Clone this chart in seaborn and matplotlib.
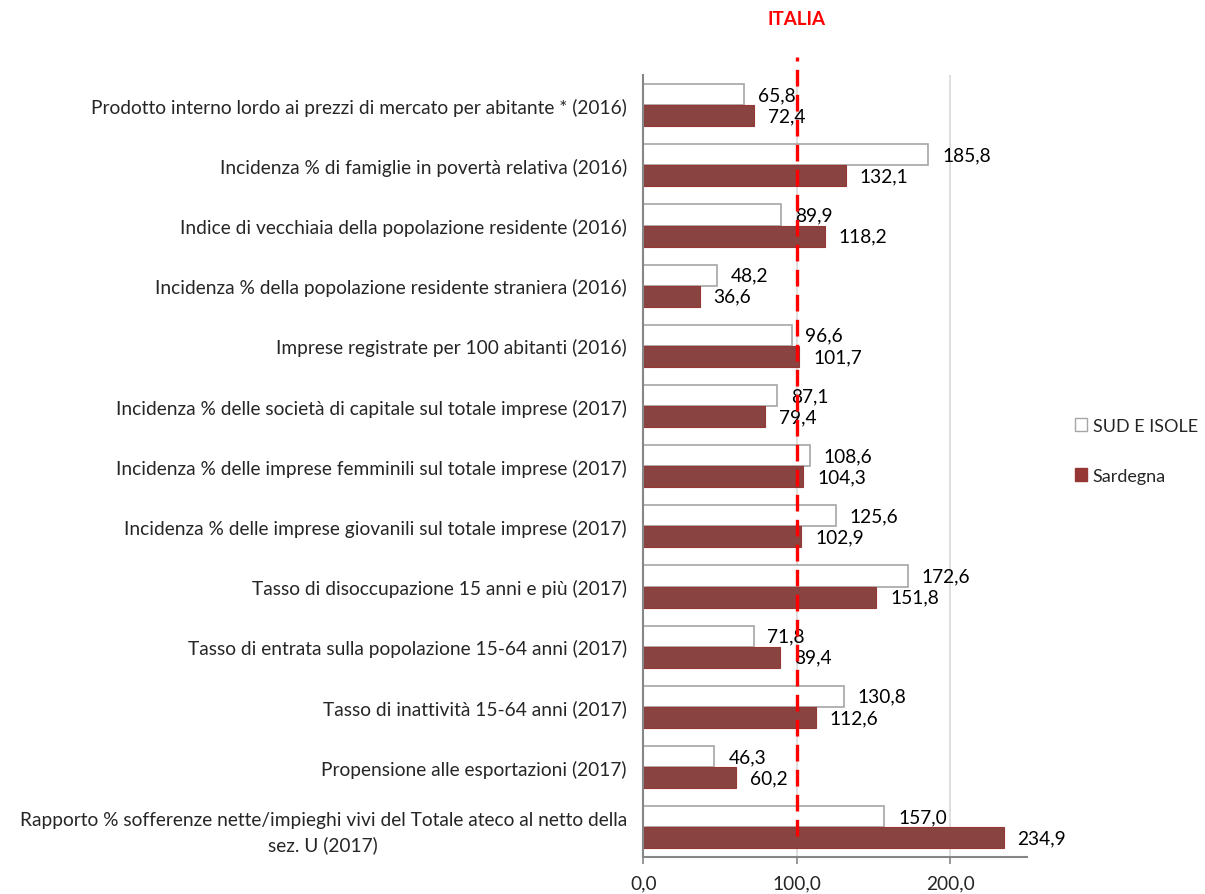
import pandas as pd
import matplotlib.pyplot as plt
import seaborn as sns
from matplotlib.patches import Patch
from matplotlib.ticker import FixedLocator

# Dati (numeri indice, Italia = 100)
categorie = [
    "Prodotto interno lordo ai prezzi di mercato per abitante * (2016)",
    "Incidenza % di famiglie in povertà relativa (2016)",
    "Indice di vecchiaia della popolazione residente (2016)",
    "Incidenza % della popolazione residente straniera (2016)",
    "Imprese registrate per 100 abitanti (2016)",
    "Incidenza % delle società di capitale sul totale imprese (2017)",
    "Incidenza % delle imprese femminili sul totale imprese (2017)",
    "Incidenza % delle imprese giovanili sul totale imprese (2017)",
    "Tasso di disoccupazione 15 anni e più (2017)",
    "Tasso di entrata sulla popolazione 15-64 anni (2017)",
    "Tasso di inattività 15-64 anni (2017)",
    "Propensione alle esportazioni (2017)",
    "Rapporto % sofferenze nette/impieghi vivi del Totale ateco al netto della\nsez. U (2017)",
]
sud_isole = [65.8, 185.8, 89.9, 48.2, 96.6, 87.1, 108.6, 125.6, 172.6, 71.8, 130.8, 46.3, 157.0]
sardegna = [72.4, 132.1, 118.2, 36.6, 101.7, 79.4, 104.3, 102.9, 151.8, 89.4, 112.6, 60.2, 234.9]
serie = ["SUD E ISOLE", "Sardegna"]
italia = 100.0
x_ticks = [0, 100, 200]

df = pd.DataFrame({
    "categoria": categorie * 2,
    "valore": sud_isole + sardegna,
    "area": [serie[0]] * len(categorie) + [serie[1]] * len(categorie),
})

sns.set_style("white")
plt.rcParams["font.family"] = ["Lato", "DejaVu Sans"]
fs = 13.8

rosso = "#953735"
fig = plt.figure(figsize=(12.05, 8.95), dpi=100)
ax = fig.add_axes([0.534, 0.041, 0.318, 0.874])

sns.barplot(data=df, x="valore", y="categoria", hue="area", hue_order=serie,
            order=categorie, orient="h", width=0.7, palette=["white", rosso],
            legend=False, ax=ax)

for bar in ax.containers[0]:
    bar.set_edgecolor("#a6a6a6")
    bar.set_linewidth(1.2)
for bar in ax.containers[1]:
    bar.set_edgecolor(rosso)
    bar.set_linewidth(0.8)

# etichette valori con virgola decimale
for cont, vals in zip(ax.containers, [sud_isole, sardegna]):
    ax.bar_label(cont, labels=[f"{v:.1f}".replace(".", ",") for v in vals],
                 padding=10, fontsize=fs, color="black")

ax.set_xlim(0, 250)
ax.set_ylim(len(categorie) - 0.5, -0.5)
ax.set_xticks(x_ticks)
ax.set_xticklabels([f"{t:.1f}".replace(".", ",") for t in x_ticks], fontsize=fs)
ax.set_xlabel("")
ax.set_ylabel("")
ax.tick_params(axis="y", length=0, pad=12, labelsize=fs)
ax.yaxis.set_minor_locator(FixedLocator([i - 0.5 for i in range(len(categorie) + 1)]))
ax.tick_params(axis="y", which="minor", length=5, color="#868686", width=1.2)
ax.tick_params(axis="x", length=5, color="#868686", width=1.2, direction="out", bottom=True, pad=7)
for lab in ax.get_yticklabels():
    lab.set_multialignment("center")
    lab.set_linespacing(1.45)

ax.grid(axis="x", color="#d9d9d9", linewidth=1.2)
ax.set_axisbelow(True)
for s in ["top", "right"]:
    ax.spines[s].set_visible(False)
for s in ["left", "bottom"]:
    ax.spines[s].set_color("#868686")
    ax.spines[s].set_linewidth(1.5)

# linea Italia
ax.plot([italia, italia], [0.027, 1.023], transform=ax.get_xaxis_transform(),
        color="#ff0000", linewidth=2.4, linestyle=(0, (5, 2.5)), clip_on=False, zorder=5)
ax.text(italia, 1.072, "ITALIA", transform=ax.get_xaxis_transform(), color="#ff0000",
        fontsize=13.5, fontweight="bold", ha="center", va="center")

handles = [Patch(facecolor="white", edgecolor="#a6a6a6", label=serie[0]),
           Patch(facecolor=rosso, edgecolor=rosso, label=serie[1])]
fig.legend(handles=handles, loc="center left", bbox_to_anchor=(0.892, 0.495),
           frameon=False, fontsize=13, handlelength=0.7, handleheight=0.7,
           handletextpad=0.3, labelspacing=1.9, borderaxespad=0, borderpad=0)

fig.savefig("out.png", dpi=100)
